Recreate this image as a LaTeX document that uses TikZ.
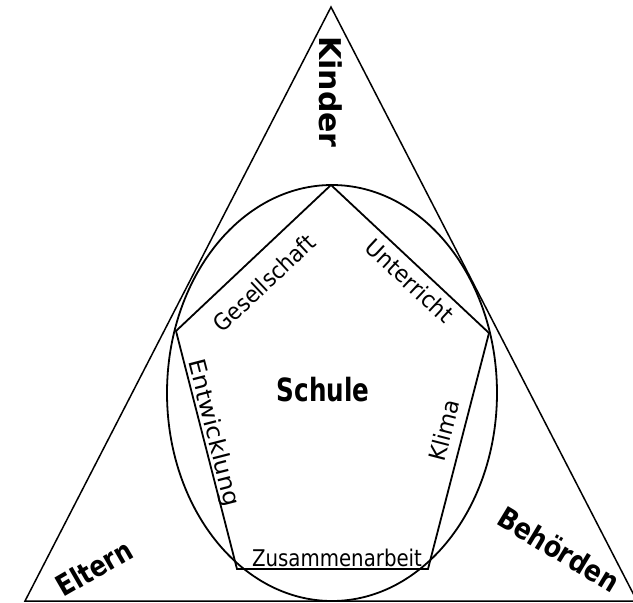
\documentclass[tikz,border=0pt]{standalone}
\usepackage{fontspec}
\setmainfont{DejaVu Sans}
\begin{document}
\begin{tikzpicture}[x=1pt,y=-1pt,
  tri/.style={line width=1.5pt},
  ring/.style={line width=1.8pt},
  penta/.style={line width=1.8pt, line join=miter},
  bigtxt/.style={font=\bfseries\fontsize{30}{32}\selectfont, inner sep=0pt},
  midtxt/.style={font=\bfseries\fontsize{29}{31}\selectfont, inner sep=0pt},
  lbl/.style={font=\fontsize{23}{25}\selectfont, inner sep=0pt}]
\useasboundingbox (0,0) rectangle (633,603);
% triangle
\coordinate (A) at (331,7);
\coordinate (L) at (25,601);
\coordinate (R) at (637,601);
\draw[tri] (A) -- (L) -- (R) -- cycle;
% ellipse
\coordinate (C) at (332,393);
\draw[ring] (C) ellipse [x radius=165pt, y radius=208pt];
% pentagon
\coordinate (P1) at (331,185);
\coordinate (P2) at (176,331);
\coordinate (P3) at (237,569);
\coordinate (P4) at (428,569);
\coordinate (P5) at (489,333);
\draw[penta] (P1) -- (P2) -- (P3) -- (P4) -- (P5) -- cycle;
% corner labels
\node[bigtxt, rotate=-90] (kinder) at (331,92) {Kinder};
\node[midtxt, rotate=30] (eltern) at (94,568) {\scalebox{0.84}[1]{Eltern}};
\node[midtxt, rotate=-31] (behoerden) at (559,549) {\scalebox{0.86}[1]{Behörden}};
\node[font=\bfseries\fontsize{32}{34}\selectfont, inner sep=0pt] (schule) at (323,390) {\scalebox{0.77}[1]{Schule}};
% edge labels
\node[lbl, rotate=43.3] (ges) at (264,283) {\scalebox{0.92}[1]{Gesellschaft}};
\node[lbl, rotate=-43] (unt) at (410,281) {\scalebox{0.95}[1]{Unterricht}};
\node[lbl, rotate=-75.6] (ent) at (213,433) {\scalebox{1.08}[1]{Entwicklung}};
\node[lbl, rotate=75.5] (kli) at (444,430) {\scalebox{0.97}[1]{Klima}};
\node[lbl, anchor=base] (zus) at (337,566) {\scalebox{0.86}[1]{Zusammenarbeit}};
\end{tikzpicture}
\end{document}
